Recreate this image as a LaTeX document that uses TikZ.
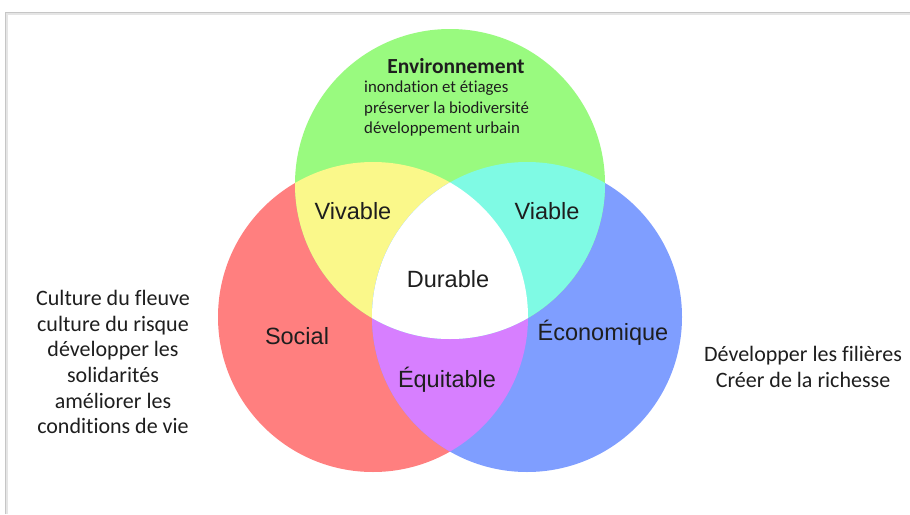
\documentclass[tikz,border=0pt]{standalone}
\usepackage{fontspec}
\setmainfont[RawFeature=-liga]{Carlito}
\newfontfamily\vennfont{Liberation Sans}
\usetikzlibrary{positioning}

\definecolor{socred}{RGB}{255,127,127}
\definecolor{envgreen}{RGB}{153,250,127}
\definecolor{ecoblue}{RGB}{127,158,255}
\definecolor{vivyellow}{RGB}{250,248,138}
\definecolor{viacyan}{RGB}{127,250,228}
\definecolor{equpurple}{RGB}{215,127,255}
\definecolor{txtdark}{RGB}{30,30,30}

\begin{document}
\begin{tikzpicture}[x=1pt,y=-1pt,
      vlabel/.style={font=\vennfont\fontsize{23.5}{26}\selectfont,text=txtdark,inner sep=0pt},
      side/.style={font=\fontsize{22}{25.7}\selectfont,text=txtdark,align=center,inner sep=0pt}]
  \useasboundingbox (0,0) rectangle (910,514);
  \fill[white] (0,0) rectangle (910,514);
  % frame of the slide
  \draw[gray!45,line width=1pt] (5,514) -- (5,12) -- (910,12);
  \draw[gray!20,line width=1.5pt] (7,514) -- (7,14) -- (910,14);

  \coordinate (soc) at (373,317);
  \coordinate (eco) at (527,317);
  \coordinate (env) at (450,184);

  % the three sets
  \fill[socred] (soc) circle (155pt);
  \fill[ecoblue] (eco) circle (155pt);
  \fill[envgreen] (env) circle (155pt);
  % pairwise overlaps
  \begin{scope}
    \clip (soc) circle (155pt);
    \fill[vivyellow] (env) circle (155pt);
    \fill[equpurple] (eco) circle (155pt);
  \end{scope}
  \begin{scope}
    \clip (eco) circle (155pt);
    \fill[viacyan] (env) circle (155pt);
  \end{scope}
  % centre
  \begin{scope}
    \clip (soc) circle (155pt);
    \clip (eco) circle (155pt);
    \fill[white] (env) circle (155pt);
  \end{scope}

  \node[vlabel] (durable) at (448,279) {Durable};
  \node[vlabel] (vivable) at (353,211) {Vivable};
  \node[vlabel] (viable) at (547,211) {Viable};
  \node[vlabel] (equitable) at (447,380) {Équitable};
  \node[vlabel] (social) at (297,336) {Social};
  \node[vlabel] (economique) at (603,333) {Économique};

  \node[font=\bfseries\fontsize{21.5}{24}\selectfont,text=txtdark,inner sep=0pt] (envtitle) at (456,66) {Environnement};
  \node[font=\fontsize{16.8}{20.5}\selectfont,text=txtdark,align=left,anchor=north west,inner sep=0pt]
    (envtext) at (364,81) {inondation et étiages\\préserver la biodiversité\\développement urbain};

  \node[side] (soctext) at (113,362) {Culture du fleuve\\culture du risque\\développer les\\solidarités\\améliorer les\\conditions de vie};
  \node[side] (ecotext) at (803,367) {Développer les filières\\Créer de la richesse};
\end{tikzpicture}
\end{document}
